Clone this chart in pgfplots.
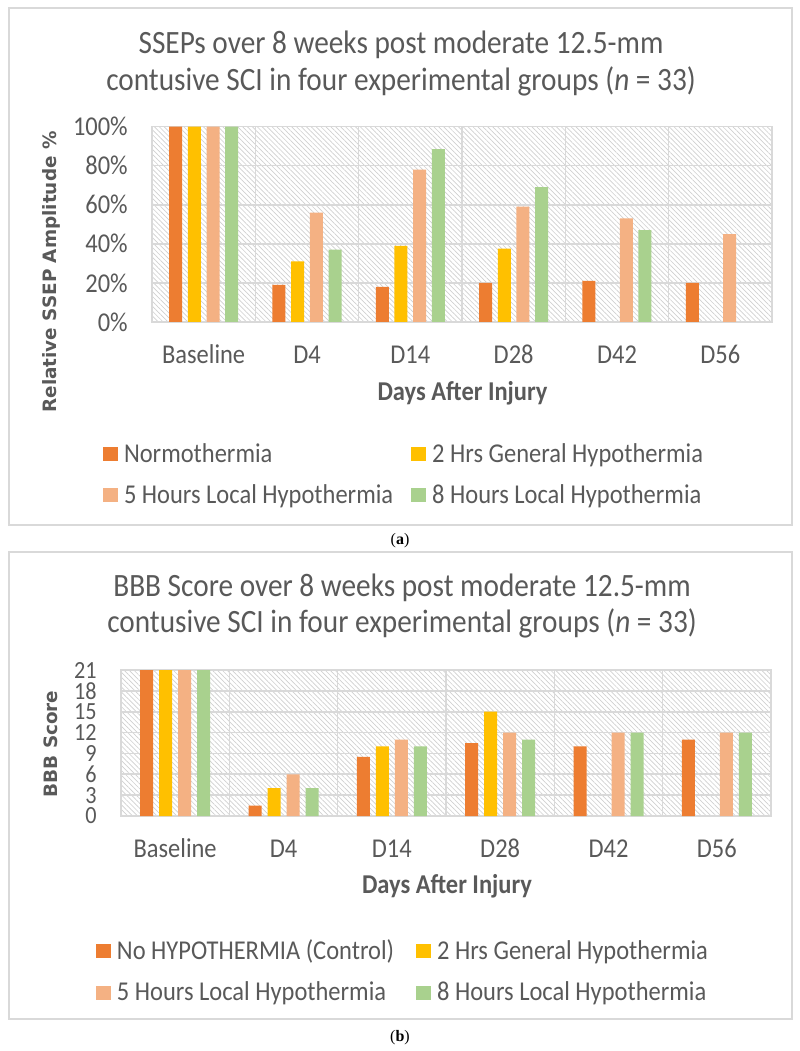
\documentclass[border=0pt]{standalone}
\usepackage{fontspec}
\setmainfont{Carlito}[FakeStretch=0.9]
\newfontfamily\dejavu{DejaVu Sans}
\newfontfamily\capfont{Liberation Serif}
\usepackage{pgfplots}
\pgfplotsset{compat=1.18}
\usetikzlibrary{patterns.meta}

\definecolor{cA}{HTML}{ED7D31}
\definecolor{cB}{HTML}{FFC000}
\definecolor{cC}{HTML}{F4B183}
\definecolor{cD}{HTML}{A9D18E}
\definecolor{tgray}{HTML}{595959}
\definecolor{ggray}{HTML}{D9D9D9}
\definecolor{hgray}{HTML}{CFCFCF}

\newcommand\tickfont{\fontsize{20.4}{24}\selectfont}
\newcommand\smalltickfont{\fontsize{18.5}{20}\selectfont}
\newcommand\titlefont{\fontsize{24.4}{28}\selectfont}
\newcommand\ylabfont{\dejavu\bfseries\fontsize{13.8}{16}\selectfont}

\pgfplotsset{
  mybar/.style={
    scale only axis,
    xmin=-0.5, xmax=5.5,
    xtick={0,1,2,3,4,5},
    xticklabels={Baseline,D4,D14,D28,D42,D56},
    minor xtick={0.5,1.5,2.5,3.5,4.5},
    xminorgrids, ymajorgrids,
    major tick length=0pt, minor tick length=0pt,
    major grid style={draw=ggray, line width=1.2pt},
    minor grid style={draw=ggray, line width=1.2pt},
    axis line style={draw=ggray, line width=1.2pt},
    axis background/.style={pattern={Lines[angle=-45,distance=2.6pt,line width=0.5pt]}, pattern color=hgray},
    /pgf/number format/assume math mode=true,
    tick label style={font=\tickfont, text=tgray, inner sep=0pt},
    yticklabel style={anchor=east, xshift=-18pt},
    legend columns=2,
    legend cell align=left,
  }
}

\begin{document}
\begin{tikzpicture}
\path (0,0) rectangle (600pt,788.25pt);

% frames
\draw[ggray, line width=0.9pt] (6.75pt,394.5pt) rectangle (594pt,782.25pt);
\draw[ggray, line width=0.9pt] (6.75pt,24pt) rectangle (594pt,374.25pt);

% ---------- panel (a)
\begin{axis}[mybar,
  at={(114pt,546.75pt)}, anchor=south west,
  width=465pt, height=146.6pt,
  ybar=4.25pt, bar width=9.75pt,
  ymin=0, ymax=100,
  ytick={0,20,40,60,80,100},
  yticklabels={0\%,20\%,40\%,60\%,80\%,100\%},
  xticklabel style={anchor=base, yshift=-31.5pt},
  every axis plot post/.append style={legend image code/.code={\fill[##1] (0pt,-5.5pt) rectangle (11.25pt,5pt); \path (0pt,20pt);}},
  legend style={at={(-0.079,-0.739)}, anchor=west, draw=none, fill=none,
    inner sep=0pt, outer sep=0pt, font=\tickfont, text=tgray,
    nodes={inner sep=0pt},
    row sep=3pt,
    /tikz/every odd column/.append style={column sep=4.5pt},
    /tikz/every even column/.append style={column sep=13.5pt}},
]
\addplot[fill=cA, draw=none] coordinates {(0,100) (1,19) (2,18) (3,20) (4,21) (5,20)};
\addplot[fill=cB, draw=none] coordinates {(0,100) (1,31) (2,39) (3,37.5)};
\addplot[fill=cC, draw=none] coordinates {(0,100) (1,56) (2,78) (3,59) (4,53) (5,45)};
\addplot[fill=cD, draw=none] coordinates {(0,100) (1,37) (2,88.5) (3,69) (4,47)};
\legend{Normothermia, 2 Hrs General Hypothermia, 5 Hours Local Hypothermia, 8 Hours Local Hypothermia}
\end{axis}

% ---------- panel (b)
\begin{axis}[mybar,
  at={(90.75pt,176.25pt)}, anchor=south west,
  width=487.5pt, height=109.5pt,
  ybar=4.5pt, bar width=9.75pt,
  ymin=0, ymax=21,
  ytick={0,3,6,9,12,15,18,21},
  yticklabel style={font=\smalltickfont},
  xticklabel style={anchor=base, yshift=-30.75pt},
  every axis plot post/.append style={legend image code/.code={\fill[##1] (0pt,-5.5pt) rectangle (11.25pt,5pt); \path (0pt,20pt);}},
  legend style={at={(-0.0385,-1.010)}, anchor=west, draw=none, fill=none,
    inner sep=0pt, outer sep=0pt, font=\tickfont, text=tgray,
    nodes={inner sep=0pt},
    row sep=3pt,
    /tikz/every odd column/.append style={column sep=4.5pt},
    /tikz/every even column/.append style={column sep=16.5pt}},
]
\addplot[fill=cA, draw=none] coordinates {(0,21) (1,1.5) (2,8.5) (3,10.5) (4,10) (5,11)};
\addplot[fill=cB, draw=none] coordinates {(0,21) (1,4) (2,10) (3,15)};
\addplot[fill=cC, draw=none] coordinates {(0,21) (1,6) (2,11) (3,12) (4,12) (5,12)};
\addplot[fill=cD, draw=none] coordinates {(0,21) (1,4) (2,10) (3,11) (4,12) (5,12)};
\legend{No HYPOTHERMIA (Control), 2 Hrs General Hypothermia, 5 Hours Local Hypothermia, 8 Hours Local Hypothermia}
\end{axis}

% titles
\node[anchor=base, text=tgray, font=\titlefont] at (300.75pt,747.75pt) {SSEPs over 8 weeks post moderate 12.5-mm};
\node[anchor=base, text=tgray, font=\titlefont] at (300.75pt,720pt) {contusive SCI in four experimental groups (\textit{n} = 33)};
\node[anchor=base, text=tgray, font=\titlefont] at (301.5pt,340.5pt) {BBB Score over 8 weeks post moderate 12.5-mm};
\node[anchor=base, text=tgray, font=\titlefont] at (301.5pt,313.5pt) {contusive SCI in four experimental groups (\textit{n} = 33)};

% axis titles
\node[anchor=base, text=tgray, font=\tickfont\bfseries] at (346.9pt,487.5pt) {Days After Injury};
\node[anchor=base, text=tgray, font=\tickfont\bfseries] at (335.25pt,117.75pt) {Days After Injury};
\node[rotate=90, text=tgray, font=\ylabfont] at (38.25pt,584.25pt) {Relative SSEP Amplitude \%};
\node[rotate=90, text=tgray, font=\ylabfont] at (38.25pt,230.25pt) {BBB Score};

% captions
\node[font=\capfont\fontsize{12}{14}\selectfont] at (300pt,382.5pt) {(\textbf{a})};
\node[font=\capfont\fontsize{12}{14}\selectfont] at (300pt,10pt) {(\textbf{b})};

\pgfresetboundingbox
\path (0,0) rectangle (600pt,788.25pt);
\end{tikzpicture}
\end{document}
